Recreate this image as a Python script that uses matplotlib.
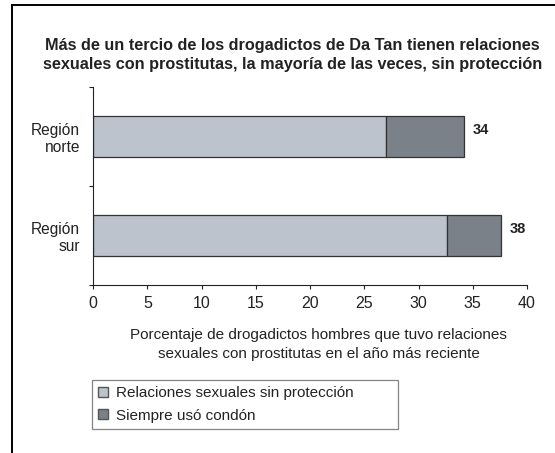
import matplotlib.pyplot as plt
from matplotlib.lines import Line2D
from matplotlib.patches import Patch

regiones = ["Región\nnorte", "Región\nsur"]
sin_proteccion = [27.0, 32.6]
siempre_condon = [7.2, 5.0]
totales = ["34", "38"]
series = ["Relaciones sexuales sin protección", "Siempre usó condón"]

plt.rcParams["font.family"] = ["Liberation Sans", "DejaVu Sans"]

claro = "#bcc3cc"
oscuro = "#7a8189"
borde = "#333333"

fig = plt.figure(figsize=(5.55, 4.53), dpi=100)
ax = fig.add_axes([0.168, 0.371, 0.7815, 0.437])

pos = [1.5, 0.5]
ax.barh(pos, sin_proteccion, height=0.41, color=claro, edgecolor=borde, linewidth=0.9)
ax.barh(pos, siempre_condon, left=sin_proteccion, height=0.41, color=oscuro,
        edgecolor=borde, linewidth=0.9)

for y, a, b, t in zip(pos, sin_proteccion, siempre_condon, totales):
    ax.annotate(t, (a + b, y), xytext=(6, 5), textcoords="offset points",
                ha="left", va="center", fontsize=10.5, fontweight="bold", color="#222222")

ax.set_xlim(0, 40)
ax.set_ylim(0, 2)
ax.set_xticks(range(0, 41, 5))
ax.set_yticks([0, 1, 2])
ax.set_yticklabels([])
ax.set_yticks(pos, minor=True)
ax.set_yticklabels(regiones, minor=True, ha="right")
ax.tick_params(axis="y", which="minor", length=0, pad=9.5, labelsize=11.2, labelcolor="#222222")
ax.tick_params(axis="y", which="major", length=3, color="#222222")
ax.tick_params(axis="x", length=3, labelsize=11.5, labelcolor="#222222", color="#222222", pad=5)
for s in ["top", "right"]:
    ax.spines[s].set_visible(False)
for s in ["left", "bottom"]:
    ax.spines[s].set_color("#222222")
    ax.spines[s].set_linewidth(0.8)

ax.set_xlabel("Porcentaje de drogadictos hombres que tuvo relaciones\n"
              "sexuales con prostitutas en el año más reciente",
              fontsize=11, color="#222222", labelpad=12, linespacing=1.5)
ax.xaxis.label.set_x(0.52)

fig.text(0.527, 0.879, "Más de un tercio de los drogadictos de Da Tan tienen relaciones\n"
         "sexuales con prostitutas, la mayoría de las veces, sin protección",
         ha="center", va="center", fontsize=11.7, fontweight="bold", color="#222222",
         linespacing=1.3)

handles = [Patch(facecolor=claro, edgecolor="#555555", label=series[0]),
           Patch(facecolor=oscuro, edgecolor="#555555", label=series[1])]
leg = fig.legend(handles=handles, loc="upper left",
                 bbox_to_anchor=(0.166, 0.0, 0.552, 0.161), mode="expand",
                 bbox_transform=fig.transFigure, fontsize=11, frameon=True,
                 fancybox=False, handlelength=0.65, handleheight=0.65,
                 handletextpad=0.5, borderpad=0.4, labelspacing=0.55,
                 borderaxespad=0)
leg.get_frame().set_edgecolor("#666666")
leg.get_frame().set_linewidth(0.9)
for t in leg.get_texts():
    t.set_color("#222222")

# marco exterior (solo arriba e izquierda)
fig.add_artist(Line2D([0.022, 0.022], [0.0, 0.989], transform=fig.transFigure,
                      color="black", linewidth=1.4))
fig.add_artist(Line2D([0.022, 1.0], [0.989, 0.989], transform=fig.transFigure,
                      color="black", linewidth=1.4))

fig.savefig("out.png", dpi=100)
